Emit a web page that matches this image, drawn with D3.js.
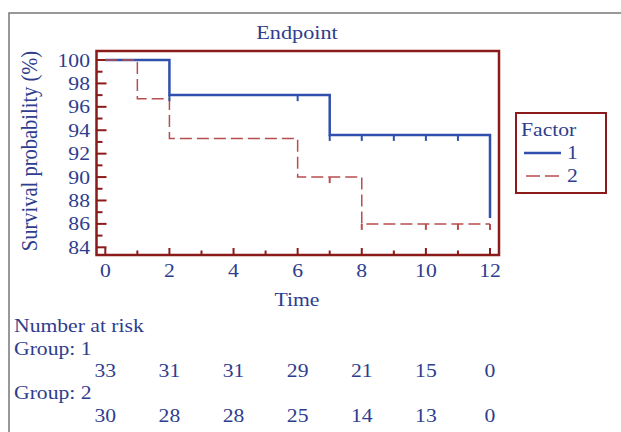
<!DOCTYPE html>
<html>
<head>
<meta charset="utf-8">
<script src="https://cdn.jsdelivr.net/npm/d3@7"></script>
<style>
  body { margin: 0; background: #fff; }
  text { font-family: "Liberation Serif", "Times New Roman", serif; fill: #2e3d8e; }
</style>
</head>
<body>
<div id="chart"></div>
<script>
// Kaplan-Meier steps
var times1 = [0, 2, 7, 12];
var surv1 = [100, 97.0, 93.6, 86.5];
var times2 = [0, 1, 2, 6, 8, 12];
var surv2 = [100, 96.7, 93.3, 90.0, 86.0, 86.0];

// censored observations (small tick marks)
var censor1 = [2, 6, 7, 8, 9, 10, 11];
var censor2 = [7, 8, 10, 11, 12];

// number at risk table
var riskTimes = [0, 2, 4, 6, 8, 10, 12];
var risk1 = [33, 31, 31, 29, 21, 15, 0];
var risk2 = [30, 28, 28, 25, 14, 13, 0];

var xTicks = [0, 2, 4, 6, 8, 10, 12];
var yTicks = [84, 86, 88, 90, 92, 94, 96, 98, 100];

var svgWidth = 621;
var svgHeight = 432;

var frameColor = "#8b1a1a";
var blue = "#3050ad";
var red = "#b84d4f";
var fontSize = 19;
var stretch = 1.14; // the text in the picture is a bit wider than plain Times

var svg = d3.select("#chart")
  .append("svg")
  .attr("width", svgWidth)
  .attr("height", svgHeight);

// outer gray frame (only top and left edges are visible)
svg.append("path")
  .attr("d", "M9,432 L9,13 L621,13")
  .attr("fill", "none")
  .attr("stroke", "#777")
  .attr("stroke-width", 1.5);

// scales
var x = d3.scaleLinear().domain([0, 12]).range([105.3, 490]);
var y = d3.scaleLinear().domain([84, 100]).range([247.3, 60]);

// plot box
var box = { left: 96.5, top: 51, right: 499, bottom: 255 };

// helper for horizontally widened text
function addText(parent, tx, ty, str, anchor, size, rotate) {
  var t = parent.append("text")
    .attr("transform", "translate(" + tx + "," + ty + ") scale(" + stretch + ",1)" + (rotate ? " rotate(" + rotate + ")" : ""))
    .attr("text-anchor", anchor || "start")
    .attr("font-size", size || fontSize)
    .text(str);
  return t;
}

// title
addText(svg, 297, 39, "Endpoint", "middle", 19.5);

// y ticks (even = long, odd = short)
var yMinor = d3.range(84, 101, 1);
svg.append("g").selectAll("line")
  .data(yMinor)
  .enter()
  .append("line")
  .attr("x1", box.left)
  .attr("x2", d => box.left + (d % 2 === 0 ? 10 : 6))
  .attr("y1", d => y(d))
  .attr("y2", d => y(d))
  .attr("stroke", frameColor)
  .attr("stroke-width", 2);

// x ticks (even = long, odd = short)
var xMinor = d3.range(0, 13, 1);
svg.append("g").selectAll("line")
  .data(xMinor)
  .enter()
  .append("line")
  .attr("x1", d => x(d))
  .attr("x2", d => x(d))
  .attr("y1", box.bottom)
  .attr("y2", d => box.bottom - (d % 2 === 0 ? 7 : 4.5))
  .attr("stroke", frameColor)
  .attr("stroke-width", 2);

// tick labels
yTicks.forEach(function (d) {
  addText(svg, 90, y(d) + 6.5, d, "end");
});
xTicks.forEach(function (d) {
  addText(svg, x(d), 277, d, "middle");
});

// axis titles
addText(svg, 297, 306, "Time", "middle");
addText(svg, 37, 151, "Survival probability (%)", "middle", 20.5, -90);

// survival curves
var line = d3.line()
  .x(d => x(d[0]))
  .y(d => y(d[1]))
  .curve(d3.curveStepAfter);

var pts1 = times1.map((t, i) => [t, surv1[i]]);
var pts2 = times2.map((t, i) => [t, surv2[i]]);

svg.append("path")
  .datum(pts1)
  .attr("d", line)
  .attr("fill", "none")
  .attr("stroke", blue)
  .attr("stroke-width", 2.5);

svg.append("path")
  .datum(pts2)
  .attr("d", line)
  .attr("fill", "none")
  .attr("stroke", red)
  .attr("stroke-width", 1.5)
  .attr("stroke-dasharray", "12,5");

// survival value at a given time (step function)
function survAt(times, surv, t) {
  var v = surv[0];
  times.forEach(function (tt, i) { if (tt <= t) v = surv[i]; });
  return v;
}

// censor marks
svg.append("g").selectAll("line")
  .data(censor1)
  .enter()
  .append("line")
  .attr("x1", d => x(d))
  .attr("x2", d => x(d))
  .attr("y1", d => y(survAt(times1, surv1, d)))
  .attr("y2", d => y(survAt(times1, surv1, d)) + 6)
  .attr("stroke", blue)
  .attr("stroke-width", 2);

svg.append("g").selectAll("line")
  .data(censor2)
  .enter()
  .append("line")
  .attr("x1", d => x(d))
  .attr("x2", d => x(d))
  .attr("y1", d => y(survAt(times2, surv2, d)))
  .attr("y2", d => y(survAt(times2, surv2, d)) + 6)
  .attr("stroke", red)
  .attr("stroke-width", 2);

// plot frame drawn on top
svg.append("rect")
  .attr("x", box.left)
  .attr("y", box.top)
  .attr("width", box.right - box.left)
  .attr("height", box.bottom - box.top)
  .attr("fill", "none")
  .attr("stroke", frameColor)
  .attr("stroke-width", 2.5);

// legend
var legend = svg.append("g");
legend.append("rect")
  .attr("x", 516)
  .attr("y", 113)
  .attr("width", 90)
  .attr("height", 80)
  .attr("fill", "none")
  .attr("stroke", frameColor)
  .attr("stroke-width", 2);
addText(legend, 521, 136, "Factor", "start");
legend.append("line")
  .attr("x1", 524).attr("x2", 561)
  .attr("y1", 153).attr("y2", 153)
  .attr("stroke", blue)
  .attr("stroke-width", 2.5);
addText(legend, 567, 159, "1", "start");
legend.append("line")
  .attr("x1", 526).attr("x2", 560)
  .attr("y1", 176).attr("y2", 176)
  .attr("stroke", red)
  .attr("stroke-width", 1.5)
  .attr("stroke-dasharray", "14,5");
addText(legend, 567, 182, "2", "start");

// number at risk table
addText(svg, 14, 332, "Number at risk", "start");
addText(svg, 14, 355, "Group: 1", "start");
addText(svg, 14, 399, "Group: 2", "start");
riskTimes.forEach(function (t, i) {
  addText(svg, x(t), 377, risk1[i], "middle");
  addText(svg, x(t), 422, risk2[i], "middle");
});
</script>
</body>
</html>
